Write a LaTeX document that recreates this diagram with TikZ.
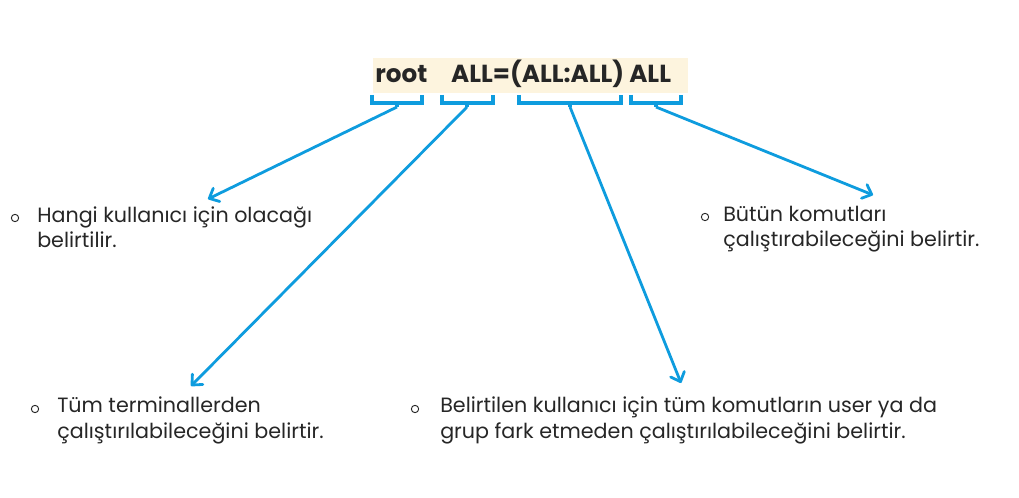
\documentclass[tikz,border=0pt]{standalone}
\usepackage{fontspec}
\setmainfont{Poppins}
\usetikzlibrary{arrows.meta,positioning}
\definecolor{skyblue}{RGB}{14,156,222}
\definecolor{codebg}{RGB}{253,244,222}
\definecolor{ink}{RGB}{38,38,38}
\tikzset{font=\fontsize{15.5}{18.8}\selectfont}
\tikzstyle{desc}=[anchor=base west,align=left,inner sep=0pt,text=ink]
\tikzstyle{bullet}=[circle,draw=ink,line width=0.7pt,inner sep=0pt,minimum size=5.5pt]
\tikzstyle{brace}=[draw=skyblue,line width=2.3pt]
\begin{document}
\begin{tikzpicture}[x=0.75pt,y=-0.75pt]
\useasboundingbox (0,0) rectangle (1019,498);
\node [fill=codebg,inner sep=0pt,minimum width=236pt,minimum height=26pt] (codebox) at (530.5,75.5) {};
\node [anchor=base west,inner sep=0pt,text=ink,font=\fontsize{18.5}{22}\selectfont\bfseries] (code) at (375,83) {root\hspace{18pt}ALL=(ALL:ALL) ALL};
% brackets under the four parts
\foreach \l/\m/\r [count=\i] in {372/397/422,442/467/493,519/570/621,631/656/681}{
  \draw[brace,line cap=butt] (\l,95) -- (\l,103) -- (\r,103) -- (\r,95);
  \draw[brace] (\m,103) -- (\m,107);
  \coordinate (b\i) at (\m,107);
}
\coordinate (tip1) at (208,199);
\coordinate (tip2) at (191,386);
\coordinate (tip3) at (681,383);
\coordinate (tip4) at (873,195);
% base anchor sits on the second line
\node [desc] (user) at (37,248) {Hangi kullanıcı için olacağı\\belirtilir.};
\node [desc] (term) at (57,438) {Tüm terminallerden\\çalıştırılabileceğini belirtir.};
\node [desc] (runas) at (440,438) {Belirtilen kullanıcı için tüm komutların user ya da\\grup fark etmeden çalıştırılabileceğini belirtir.};
\node [desc] (cmds) at (723,247) {Bütün komutları\\çalıştırabileceğini belirtir.};
\node [bullet] (o1) at (15,218) {};
\node [bullet] (o2) at (35,409) {};
\node [bullet] (o3) at (415,409) {};
\node [bullet] (o4) at (705,217) {};
\path[-{Straight Barb[length=6pt,width=11pt,line cap=round,line join=round]},skyblue,line width=2.1pt]
(b1) edge (tip1)
(b2) edge (tip2)
(b3) edge (tip3)
(b4) edge (tip4);
\end{tikzpicture}
\end{document}
